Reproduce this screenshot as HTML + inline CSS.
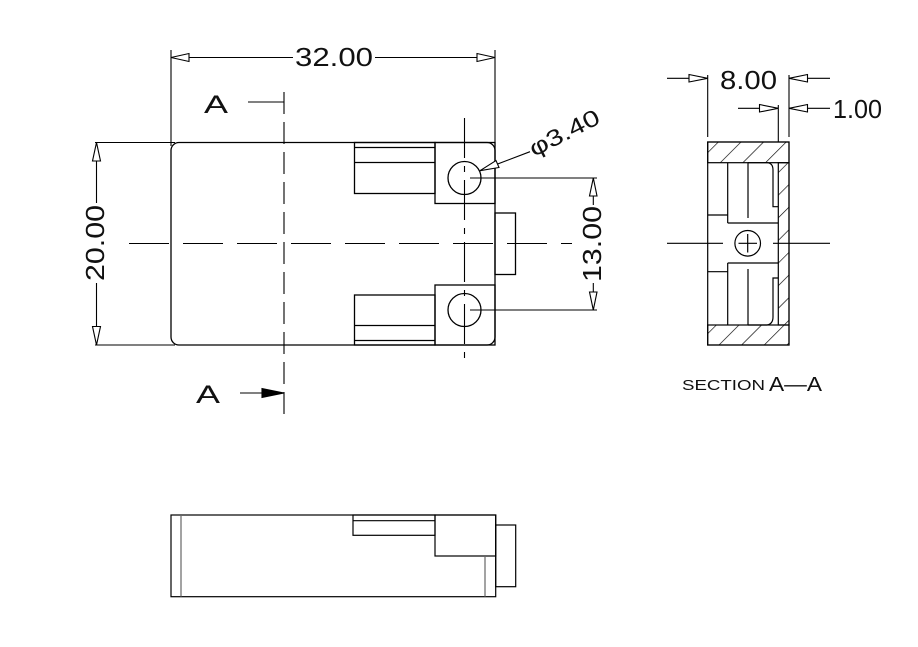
<!DOCTYPE html>
<html><head><meta charset="utf-8"><style>
html,body{margin:0;padding:0;background:#fff;}
svg{display:block;}
text{font-family:"Liberation Sans",sans-serif;fill:#111;}
</style></head><body>
<svg width="918" height="647" viewBox="0 0 918 647" xmlns="http://www.w3.org/2000/svg">
<defs>
<pattern id="h" patternUnits="userSpaceOnUse" width="16" height="16" patternTransform="rotate(45)">
<line x1="0" y1="0" x2="0" y2="16" stroke="#000" stroke-width="1.3"/>
</pattern>
</defs>
<g fill="none" stroke="#000" stroke-width="1.3">
<rect x="171" y="142.5" width="324" height="202.5" rx="8"/>
<rect x="354.5" y="142.5" width="80.5" height="51"/>
<line x1="354.5" y1="147.5" x2="435" y2="147.5"/>
<line x1="354.5" y1="162.5" x2="435" y2="162.5"/>
<rect x="435" y="142.5" width="60" height="61"/>
<circle cx="464.5" cy="178" r="16.5"/>
<rect x="354.5" y="295" width="80.5" height="50"/>
<line x1="354.5" y1="325.5" x2="435" y2="325.5"/>
<line x1="354.5" y1="340.5" x2="435" y2="340.5"/>
<rect x="435" y="285" width="60" height="60"/>
<circle cx="464.5" cy="310" r="16.5"/>
<rect x="495" y="213" width="20.5" height="61.5"/>
</g>
<g stroke="#000" stroke-width="1.1" fill="none">
<line x1="129" y1="243.5" x2="572" y2="243.5" stroke-dasharray="40,14"/>
<line x1="284" y1="92" x2="284" y2="414" stroke-dasharray="22,8"/>
<line x1="464.5" y1="118" x2="464.5" y2="364" stroke-dasharray="40,8,6,8"/>
</g>
<g stroke="#000" stroke-width="1.1" fill="#fff">
<line x1="171" y1="50" x2="171" y2="146"/>
<line x1="495" y1="50" x2="495" y2="146"/>
<line x1="171" y1="57.5" x2="293" y2="57.5"/>
<line x1="375" y1="57.5" x2="495" y2="57.5"/>
<polygon points="171,57.5 189,53.5 189,61.5"/>
<polygon points="495,57.5 477,53.5 477,61.5"/>
<line x1="95" y1="142.5" x2="175" y2="142.5"/>
<line x1="95" y1="345" x2="175" y2="345"/>
<line x1="96.5" y1="142.5" x2="96.5" y2="203"/>
<line x1="96.5" y1="283" x2="96.5" y2="345"/>
<polygon points="96.5,142.5 92.5,161 100.5,161"/>
<polygon points="96.5,345 92.5,326.5 100.5,326.5"/>
<line x1="470" y1="178" x2="597" y2="178"/>
<line x1="470" y1="310" x2="597" y2="310"/>
<line x1="593.3" y1="178" x2="593.3" y2="205"/>
<line x1="593.3" y1="283" x2="593.3" y2="310"/>
<polygon points="593.3,178 589.5,196 597,196"/>
<polygon points="593.3,310 589.5,292 597,292"/>
<line x1="480" y1="170.7" x2="530" y2="151.7"/>
<polygon points="480,170.7 496,160.5 499,167.5"/>
<line x1="248" y1="102" x2="284" y2="102"/>
<line x1="240" y1="393" x2="262" y2="393"/>
<polygon points="284,393 262,388.5 262,397.5" fill="#000"/>
</g>
<text x="334" y="66" font-size="26" text-anchor="middle" textLength="78" lengthAdjust="spacingAndGlyphs">32.00</text>
<text transform="translate(104,243) rotate(-90)" font-size="26" text-anchor="middle" textLength="76" lengthAdjust="spacingAndGlyphs">20.00</text>
<text transform="translate(601,244) rotate(-90)" font-size="26" text-anchor="middle" textLength="76" lengthAdjust="spacingAndGlyphs">13.00</text>
<text transform="translate(534,157) rotate(-27)" font-size="23" textLength="76" lengthAdjust="spacingAndGlyphs">φ3.40</text>
<text x="204" y="113" font-size="25" textLength="24" lengthAdjust="spacingAndGlyphs">A</text>
<text x="196" y="403" font-size="25" textLength="24" lengthAdjust="spacingAndGlyphs">A</text>

<g stroke="#000" stroke-width="1.2">
<rect x="707.7" y="142" width="81.3" height="20.7" fill="url(#h)"/>
<rect x="707.7" y="325" width="81.3" height="20" fill="url(#h)"/>
<rect x="778.3" y="162.7" width="10.7" height="162.3" fill="url(#h)"/>
</g>
<g fill="none" stroke="#000" stroke-width="1.2">
<rect x="707.7" y="142" width="81.3" height="203"/>
<line x1="727.7" y1="162.7" x2="727.7" y2="223"/>
<line x1="707.7" y1="215" x2="727.7" y2="215"/>
<line x1="727.7" y1="223" x2="778.3" y2="223"/>
<line x1="748" y1="162.7" x2="748" y2="218"/>
<path d="M748,162.7 H767 Q773,163 773,170 V206.7 H778.3"/>
<line x1="727.7" y1="263" x2="727.7" y2="325"/>
<line x1="707.7" y1="271.7" x2="727.7" y2="271.7"/>
<line x1="727.7" y1="263" x2="778.3" y2="263"/>
<line x1="748" y1="269" x2="748" y2="325"/>
<path d="M748,325 H767 Q773,324 773,317 V278 H778.3"/>
<circle cx="747.7" cy="243.3" r="12.8"/>
<line x1="747.7" y1="234" x2="747.7" y2="252.5"/>
<line x1="738.5" y1="243.3" x2="757" y2="243.3"/>
<line x1="667" y1="243.3" x2="723" y2="243.3"/>
<line x1="773" y1="243.3" x2="830" y2="243.3"/>
</g>
<g stroke="#000" stroke-width="1.1" fill="#fff">
<line x1="707.7" y1="75" x2="707.7" y2="137"/>
<line x1="789" y1="75" x2="789" y2="137"/>
<line x1="778.3" y1="105" x2="778.3" y2="142"/>
<line x1="667" y1="78.3" x2="707.7" y2="78.3"/>
<line x1="789" y1="78.3" x2="830" y2="78.3"/>
<polygon points="707.7,78.3 689,74.5 689,82"/>
<polygon points="789,78.3 807.5,74.5 807.5,82"/>
<line x1="738" y1="108.3" x2="778.3" y2="108.3"/>
<line x1="789" y1="108.3" x2="830" y2="108.3"/>
<polygon points="778.3,108.3 759.5,104.5 759.5,112"/>
<polygon points="789,108.3 807.5,104.5 807.5,112"/>
</g>
<text x="720" y="89" font-size="26" textLength="57" lengthAdjust="spacingAndGlyphs">8.00</text>
<text x="833" y="118" font-size="26" textLength="49" lengthAdjust="spacingAndGlyphs">1.00</text>
<text x="682" y="390" font-size="14.5" textLength="83" lengthAdjust="spacingAndGlyphs">SECTION</text>
<text x="769" y="391" font-size="20" textLength="53" lengthAdjust="spacingAndGlyphs">A—A</text>

<g fill="none" stroke="#000" stroke-width="1.2">
<rect x="171" y="515" width="324.7" height="81.7"/>
<line x1="181" y1="515" x2="181" y2="596.7" stroke="#666"/>
<rect x="353" y="515" width="82" height="20.3"/>
<line x1="353" y1="520.7" x2="435" y2="520.7"/>
<rect x="435" y="515" width="60.7" height="41"/>
<line x1="485" y1="556" x2="485" y2="596.7" stroke="#666"/>
<rect x="495.7" y="525" width="20" height="61.7"/>
</g>
</svg>
</body></html>
